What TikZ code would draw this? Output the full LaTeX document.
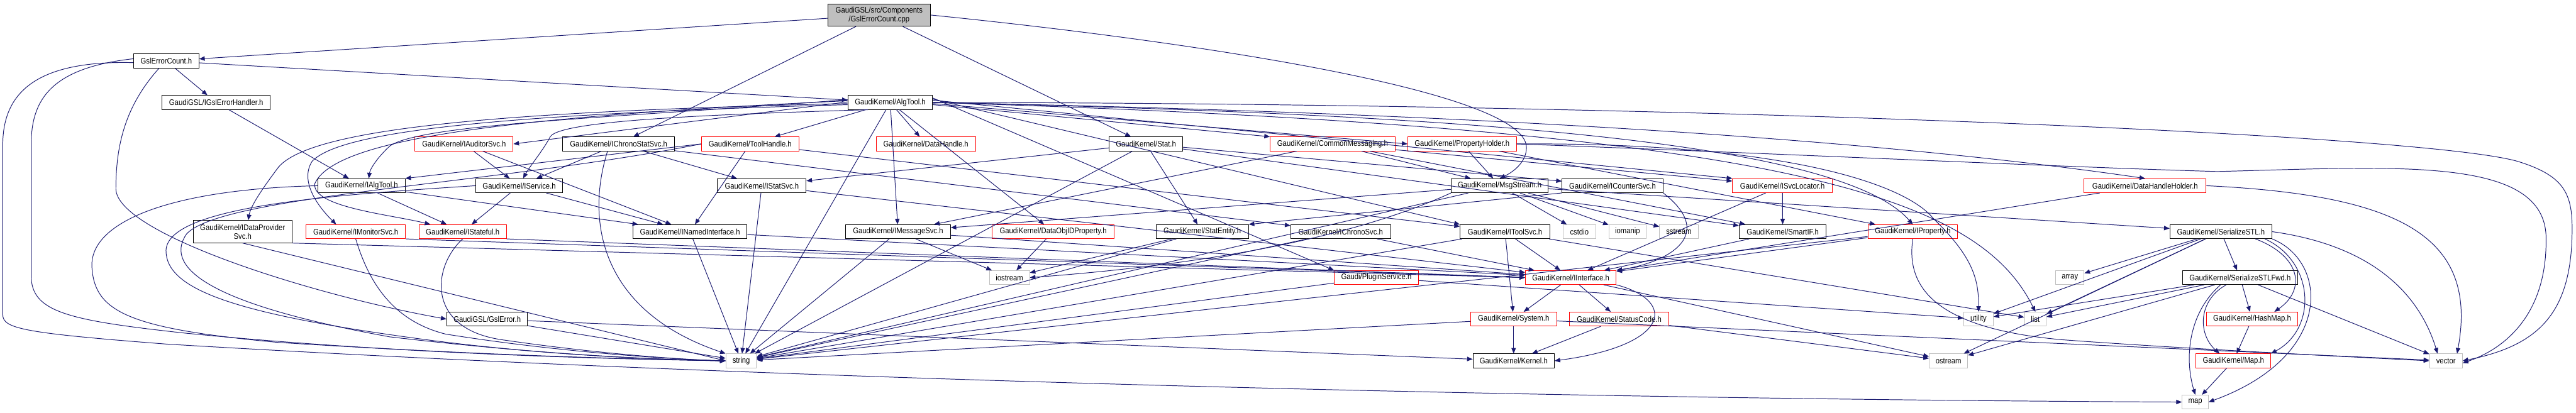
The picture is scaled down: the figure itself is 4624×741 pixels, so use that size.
\documentclass[tikz,border=0pt]{standalone}
\usepackage{fontspec}
\newfontfamily\dfont{Liberation Sans}[FakeStretch=0.88]
\usetikzlibrary{arrows.meta}
\definecolor{midnight}{HTML}{191970}
\definecolor{sysgray}{HTML}{BFBFBF}
\definecolor{rootgray}{HTML}{BFBFBF}
\definecolor{trunc}{HTML}{FF0000}
\begin{document}
\begin{tikzpicture}[x=1pt,y=-1pt,
  box/.style={draw=black, line width=1.1pt, fill=white, inner sep=0pt, minimum height=25pt,
              font=\fontsize{14.5}{16}\selectfont\dfont, text=black},
  tbox/.style={box, draw=trunc},
  sbox/.style={box, draw=sysgray},
  edge/.style={draw=midnight, line width=1.1pt, -{Triangle[length=10pt,width=8pt]}}]
\fill[white] (0,0) rectangle (4624,741);
\useasboundingbox (0,0) rectangle (4624,741);
% row 0
\node[box, fill=rootgray, minimum width=184pt, minimum height=40pt, align=center] (root) at (1578,27) {GaudiGSL/src/Components\\/GslErrorCount.cpp};
% row 1
\node[box, minimum width=117pt] (gec) at (298.5,109.5) {GslErrorCount.h};
% row 2
\node[box, minimum width=194pt] (igeh) at (388,184) {GaudiGSL/IGslErrorHandler.h};
\node[box, minimum width=152pt] (algtool) at (1598,184) {GaudiKernel/AlgTool.h};
% row 3
\node[tbox, minimum width=176pt] (iaud) at (833,258.5) {GaudiKernel/IAuditorSvc.h};
\node[box, minimum width=201pt] (icss) at (1110.5,258.5) {GaudiKernel/IChronoStatSvc.h};
\node[tbox, minimum width=175pt] (toolh) at (1346.5,258.5) {GaudiKernel/ToolHandle.h};
\node[tbox, minimum width=178pt] (datah) at (1662,258.5) {GaudiKernel/DataHandle.h};
\node[box, minimum width=132pt] (stat) at (2057,258.5) {GaudiKernel/Stat.h};
\node[tbox, minimum width=224pt] (commsg) at (2392,258.5) {GaudiKernel/CommonMessaging.h};
\node[tbox, minimum width=195pt] (prophold) at (2624.5,258.5) {GaudiKernel/PropertyHolder.h};
% row 4
\node[box, minimum width=156pt] (ialgtool) at (649,333.5) {GaudiKernel/IAlgTool.h};
\node[box, minimum width=156pt] (iservice) at (932,333.5) {GaudiKernel/IService.h};
\node[box, minimum width=159pt] (istatsvc) at (1367.5,333.5) {GaudiKernel/IStatSvc.h};
\node[box, minimum width=174pt] (msgstream) at (2692,333.5) {GaudiKernel/MsgStream.h};
\node[box, minimum width=181pt] (icounter) at (2894.5,333.5) {GaudiKernel/ICounterSvc.h};
\node[tbox, minimum width=179pt] (isvcloc) at (3199.5,333.5) {GaudiKernel/ISvcLocator.h};
\node[tbox, minimum width=219pt] (dhholder) at (3850.5,333.5) {GaudiKernel/DataHandleHolder.h};
% row 5
\node[box, minimum width=177pt, minimum height=40pt, align=center] (idps) at (435.5,416) {GaudiKernel/IDataProvider\\Svc.h};
\node[tbox, minimum width=179pt] (imon) at (638.5,416) {GaudiKernel/IMonitorSvc.h};
\node[tbox, minimum width=157pt] (istateful) at (830.5,416) {GaudiKernel/IStateful.h};
\node[box, minimum width=205pt] (inamed) at (1238.5,416) {GaudiKernel/INamedInterface.h};
\node[box, minimum width=188pt] (imsgsvc) at (1612,416) {GaudiKernel/IMessageSvc.h};
\node[tbox, minimum width=219pt] (dataobjid) at (1890.5,416) {GaudiKernel/DataObjIDProperty.h};
\node[box, minimum width=166pt] (statentity) at (2158,416) {GaudiKernel/StatEntity.h};
\node[box, minimum width=179pt] (ichrono) at (2406.5,416) {GaudiKernel/IChronoSvc.h};
\node[box, minimum width=161pt] (itoolsvc) at (2701.5,416) {GaudiKernel/IToolSvc.h};
\node[sbox, minimum width=58pt] (cstdio) at (2835,416) {cstdio};
\node[sbox, minimum width=67pt] (iomanip) at (2921.5,416) {iomanip};
\node[sbox, minimum width=69pt] (sstream) at (3013.5,416) {sstream};
\node[box, minimum width=156pt] (smartif) at (3200,416) {GaudiKernel/SmartIF.h};
\node[tbox, minimum width=161pt] (iprop) at (3433.5,416) {GaudiKernel/IProperty.h};
\node[box, minimum width=183pt] (sstl) at (3986.5,416) {GaudiKernel/SerializeSTL.h};
% row 6
\node[sbox, minimum width=72pt] (iostream) at (1812,498.5) {iostream};
\node[tbox, minimum width=151pt] (plugin) at (2470.5,498.5) {Gaudi/PluginService.h};
\node[tbox, minimum width=163pt] (iinterface) at (2819.5,498.5) {GaudiKernel/IInterface.h};
\node[sbox, minimum width=51pt] (array) at (3715.5,498.5) {array};
\node[box, minimum width=206pt] (sstlfwd) at (4021,498.5) {GaudiKernel/SerializeSTLFwd.h};
% row 7
\node[box, minimum width=145pt] (gslerror) at (874.5,573) {GaudiGSL/GslError.h};
\node[tbox, minimum width=154pt] (system) at (2717,573) {GaudiKernel/System.h};
\node[tbox, minimum width=179pt] (statuscode) at (2906.5,573) {GaudiKernel/StatusCode.h};
\node[sbox, minimum width=53pt] (utility) at (3551.5,573) {utility};
\node[sbox, minimum width=39pt] (list) at (3653.5,573) {list};
\node[tbox, minimum width=163pt] (hashmap) at (4042.5,573) {GaudiKernel/HashMap.h};
% row 8
\node[sbox, minimum width=55pt] (string) at (1330.5,648) {string};
\node[box, minimum width=146pt] (kernel) at (2717,648) {GaudiKernel/Kernel.h};
\node[sbox, minimum width=69pt] (ostream) at (3497.5,648) {ostream};
\node[tbox, minimum width=134pt] (mapH) at (4009,648) {GaudiKernel/Map.h};
\node[sbox, minimum width=59pt] (vector) at (4390.5,648) {vector};
% row 9
\node[sbox, minimum width=47pt] (map) at (3940.5,722) {map};

% straight connectors
\foreach \a/\b in {root/gec, root/icss, root/stat,
  gec/algtool, gec/igeh, igeh/ialgtool,
  algtool/toolh, algtool/datah, algtool/imsgsvc, algtool/dataobjid, algtool/string,
  iaud/iservice, iaud/inamed,
  icss/iservice, icss/istatsvc, icss/ichrono,
  toolh/itoolsvc, toolh/inamed,
  stat/istatsvc, stat/icounter, stat/statentity, stat/smartif, stat/string,
  commsg/imsgsvc, commsg/msgstream, commsg/isvcloc, commsg/smartif,
  prophold/iprop, prophold/msgstream,
  ialgtool/istateful, ialgtool/inamed,
  iservice/istateful, iservice/inamed,
  istatsvc/iinterface, istatsvc/string,
  msgstream/imsgsvc, msgstream/sstl, msgstream/string, msgstream/iomanip, msgstream/cstdio, msgstream/sstream,
  isvcloc/smartif, isvcloc/iinterface,
  inamed/iinterface, inamed/string,
  imsgsvc/iinterface, imsgsvc/string, imsgsvc/iostream,
  dataobjid/iostream, statentity/iostream, statentity/string,
  ichrono/iinterface, ichrono/string,
  itoolsvc/iinterface, itoolsvc/system, itoolsvc/list, itoolsvc/string,
  smartif/iinterface, iprop/iinterface, iprop/string,
  sstl/sstlfwd, sstl/list, sstl/utility, sstl/array, sstl/ostream,
  plugin/string, plugin/utility,
  iinterface/system, iinterface/statuscode, iinterface/ostream,
  sstlfwd/hashmap, sstlfwd/vector, sstlfwd/list, sstlfwd/utility, sstlfwd/ostream,
  gslerror/string, gslerror/kernel,
  system/kernel, system/string, system/vector,
  statuscode/kernel, statuscode/ostream,
  hashmap/mapH, mapH/map, dhholder/iinterface}
  \draw[edge] (\a) -- (\b);

% AlgTool: edges leaving its sides, routed above row 3 on the left
\draw[edge] ([yshift=5pt]algtool.west) .. controls (1100,212) and (760,222) .. (700,262) .. controls (675,285) and (664,305) .. ([xshift=13pt]ialgtool.north);
\draw[edge] ([yshift=1pt]algtool.west) -- (iaud.east);
\draw[edge] ([xshift=-40pt]algtool.south) .. controls (1300,205) and (1010,215) .. (988,245) .. controls (975,270) and (950,300) .. ([xshift=7pt]iservice.north);
\draw[edge] ([yshift=-2pt]algtool.west) .. controls (900,200) and (560,230) .. (500,300) .. controls (470,340) and (450,370) .. ([xshift=10pt]idps.north);
\draw[edge] ([yshift=-4pt]algtool.west) .. controls (900,205) and (610,235) .. (560,290) .. controls (535,330) and (580,380) .. ([xshift=-35pt]imon.north);
\draw[edge] ([yshift=3pt]algtool.west) .. controls (900,210) and (600,250) .. (565,330) .. controls (560,372) and (700,385) .. ([xshift=-58pt]istateful.north);
\draw[edge] ([yshift=-4pt]algtool.east) -- (commsg.north west);
\draw[edge] ([yshift=-2pt]algtool.east) -- (prophold.west);
\draw[edge] ([yshift=4pt]algtool.east) -- (isvcloc.north west);
\draw[edge] ([yshift=6pt]algtool.east) -- (itoolsvc.north west);
\draw[edge] ([yshift=8pt]algtool.east) -- (plugin.north west);
\draw[edge] (toolh.west) -- (ialgtool.north east);

% connectors with chosen ends
\draw[edge] (imon.south east) -- (iinterface.west);
\draw[edge] (idps.south) -- (string.west);
\draw[edge] (idps.south east) -- (iinterface.west);
\draw[edge] (istateful.south east) -- (iinterface.west);
\draw[edge] (icounter.south west) -- (statentity.north east);
\draw[edge] (icounter.south east) .. controls (3080,420) and (3000,470) .. (iinterface.north east);
\draw[edge] ([xshift=-20pt]icss.south) .. controls (1050,400) and (1080,560) .. (string.north west);

% curved connectors
\draw[edge] (root.east) .. controls (2100,70) and (2740,160) .. (2740,265) .. controls (2740,290) and (2718,308) .. (msgstream.north);
\draw[edge] ([xshift=-13pt]gec.south) .. controls (225,190) and (208,260) .. (208,340) .. controls (212,420) and (560,530) .. (gslerror.west);
\draw[edge] ([yshift=4pt]gec.west) .. controls (90,122) and (56,180) .. (56,260) -- (56,495) .. controls (56,560) and (120,575) .. (330,598) .. controls (700,635) and (1100,645) .. (string.west);
\draw[edge] ([yshift=-3pt]gec.west) .. controls (60,108) and (5,170) .. (5,260) -- (5,565) .. controls (5,590) and (40,598) .. (300,618) .. controls (1500,690) and (3000,718) .. (map.west);
\draw[edge] (ialgtool.west) .. controls (300,340) and (160,400) .. (165,480) .. controls (170,560) and (230,590) .. (500,615) .. controls (900,640) and (1150,645) .. (string.west);
\draw[edge] (iservice.west) .. controls (600,350) and (300,370) .. (298,450) .. controls (298,520) and (420,565) .. (780,612) .. controls (1000,640) and (1200,646) .. (string.west);
\draw[edge] (toolh.west) .. controls (900,330) and (400,350) .. (335,420) .. controls (300,470) and (340,540) .. (700,605) .. controls (1000,640) and (1200,646) .. (string.west);
\draw[edge] (istateful.south) .. controls (775,480) and (765,590) .. (900,610) .. controls (1050,632) and (1200,645) .. (string.west);
\draw[edge] (imon.south) .. controls (660,500) and (700,575) .. (800,600) .. controls (1000,632) and (1200,645) .. (string.west);
\draw[edge] (algtool.east) .. controls (3000,185) and (4350,240) .. (4520,290) .. controls (4600,315) and (4617,345) .. (4617,410) .. controls (4617,560) and (4560,620) .. (vector.east);
\draw[edge] (algtool.east) .. controls (3200,230) and (3550,350) .. (list.north);
\draw[edge] (algtool.east) .. controls (2500,200) and (3300,240) .. (dhholder.north);
\draw[edge] (algtool.east) .. controls (2600,205) and (3300,250) .. (iprop.north);
\draw[edge] (prophold.east) .. controls (3200,255) and (3420,330) .. (3470,392) .. controls (3540,460) and (3552,500) .. (utility.north);
\draw[edge] (prophold.east) .. controls (3300,280) and (3700,300) .. (3980,308) .. controls (4300,300) and (4560,280) .. (4570,420) .. controls (4575,560) and (4500,625) .. ([yshift=-4pt]vector.east);
\draw[edge] (sstl.south east) .. controls (4180,470) and (4190,640) .. (map.east);
\draw[edge] ([xshift=-13pt]sstl.south east) .. controls (4155,470) and (4160,590) .. (mapH.north east);
\draw[edge] ([xshift=-30pt]sstl.south east) .. controls (4130,460) and (4140,520) .. ([xshift=40pt]hashmap.north);
\draw[edge] (sstl.east) .. controls (4250,440) and (4340,520) .. ([xshift=-15pt]vector.north);
\draw[edge] ([xshift=-35pt]sstlfwd.south) .. controls (3930,560) and (3920,640) .. (map.north);
\draw[edge] ([xshift=-25pt]sstlfwd.south) .. controls (3945,540) and (3945,600) .. ([xshift=-25pt]mapH.north);
\draw[edge] (iinterface.south east) .. controls (3010,540) and (3000,620) .. (kernel.east);
\draw[edge] (iprop.south) .. controls (3420,520) and (3480,590) .. (3700,610) .. controls (3900,625) and (4200,640) .. (vector.west);
\draw[edge] (dhholder.east) .. controls (4300,350) and (4450,420) .. ([xshift=20pt]vector.north);
\draw[edge] (msgstream.south west) .. controls (2400,440) and (2100,480) .. (iostream.east);
\end{tikzpicture}
\end{document}
